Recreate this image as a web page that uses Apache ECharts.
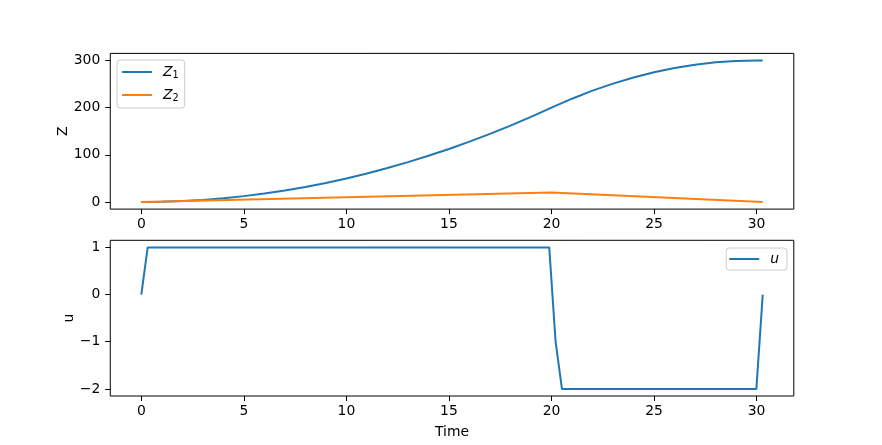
<!DOCTYPE html>
<html>
<head>
<meta charset="utf-8">
<script src="https://cdn.jsdelivr.net/npm/echarts@6/dist/echarts.min.js"></script>
<style>
html,body{margin:0;padding:0;background:#fff;}
#c{width:882px;height:445px;}
</style>
</head>
<body>
<div id="c"></div>
<script>
// ---- data ----
const timeZ1 = [0,1,2,3,4,5,6,7,8,9,10,11,12,13,14,15,16,17,18,19,20,21,22,23,24,25,26,27,28,29,30,30.3];
const z1 = [0,0.5,2,4.5,8,12.5,18,24.5,32,40.5,50,60.5,72,84.5,98,112.5,128,144.5,162,180.5,200,219,236,251,264,275,284,291,296,299,300,300];
const timeZ2 = [0,20,30.3];
const z2 = [0,20,0];
const timeU = [0,0.31,19.89,20.2,20.51,29.99,30.3];
const u = [0,1,1,-1,-2,-2,0];
const xTicks = [0,5,10,15,20,25,30];
const zTicks = [0,100,200,300];
const uTicks = [-2,-1,0,1];

const pair = (t, v) => t.map((x, i) => [x, v[i]]);
const FONT = 'DejaVu Sans';
const fmt = v => (v < 0 ? '\u2212' + Math.abs(v) : String(v));

function xAxis(gi) {
  return {
    type: 'value', gridIndex: gi, min: -1.515, max: 31.815,
    splitLine: {show: false},
    axisLine: {show: false, onZero: false},
    axisTick: {show: true, length: 5, inside: false, customValues: xTicks, lineStyle: {color: '#000', width: 1}},
    axisLabel: {customValues: xTicks, formatter: fmt, margin: 8, color: '#000', fontFamily: FONT, fontSize: 13.9},
    name: gi === 1 ? 'Time' : '', nameLocation: 'middle', nameGap: 29, nameMoveOverlap: false,
    nameTextStyle: {color: '#000', fontFamily: FONT, fontSize: 13.9}
  };
}
function yAxis(gi, min, max, ticks, name, gap) {
  return {
    type: 'value', gridIndex: gi, min: min, max: max,
    splitLine: {show: false},
    axisLine: {show: false, onZero: false},
    axisTick: {show: true, length: 5, inside: false, customValues: ticks, lineStyle: {color: '#000', width: 1}},
    axisLabel: {customValues: ticks, formatter: fmt, margin: 10, color: '#000', fontFamily: FONT, fontSize: 13.9},
    name: name, nameLocation: 'middle', nameGap: gap, nameMoveOverlap: false,
    nameTextStyle: {color: '#000', fontFamily: FONT, fontSize: 13.9}
  };
}

const rich = {
  i: {fontFamily: FONT, fontStyle: 'italic', fontSize: 13.9, color: '#000', padding: [0,0,0,6]},
  s: {fontFamily: FONT, fontSize: 9.7, color: '#000', verticalAlign: 'bottom', padding: [6,0,0,0]}
};

const chart = echarts.init(document.getElementById('c'), null, {renderer: 'canvas'});
chart.setOption({
  animation: false,
  backgroundColor: '#fff',
  grid: [
    {left: 110.25, right: 88.2, top: 53.4, height: 155.7, show: true, borderColor: '#000', borderWidth: 1, backgroundColor: 'transparent'},
    {left: 110.25, right: 88.2, top: 240.3, height: 155.7, show: true, borderColor: '#000', borderWidth: 1, backgroundColor: 'transparent'}
  ],
  xAxis: [xAxis(0), xAxis(1)],
  yAxis: [yAxis(0, -15, 315, zTicks, 'Z', 40), yAxis(1, -2.15, 1.15, uTicks, 'u', 34)],
  legend: [
    {
      data: ['Z1', 'Z2'], orient: 'vertical', left: 117, top: 60,
      icon: 'rect', itemWidth: 30, itemHeight: 2, itemGap: 8,
      padding: [5, 6, 5, 5],
      borderColor: '#cccccc', borderWidth: 1, borderRadius: 3, backgroundColor: 'rgba(255,255,255,0.8)',
      formatter: n => n === 'Z1' ? '{i|Z}{s|1}' : '{i|Z}{s|2}',
      textStyle: {rich: rich}
    },
    {
      data: ['u'], orient: 'vertical', right: 95, top: 248,
      icon: 'rect', itemWidth: 30, itemHeight: 2,
      padding: [4, 8, 4, 3],
      borderColor: '#cccccc', borderWidth: 1, borderRadius: 3, backgroundColor: 'rgba(255,255,255,0.8)',
      formatter: () => '{i|u}',
      textStyle: {rich: rich}
    }
  ],
  series: [
    {name: 'Z1', type: 'line', xAxisIndex: 0, yAxisIndex: 0, data: pair(timeZ1, z1), symbol: 'none', smooth: false, color: '#1f77b4', lineStyle: {width: 2, color: '#1f77b4'}},
    {name: 'Z2', type: 'line', xAxisIndex: 0, yAxisIndex: 0, data: pair(timeZ2, z2), symbol: 'none', color: '#ff7f0e', lineStyle: {width: 2, color: '#ff7f0e'}},
    {name: 'u', type: 'line', xAxisIndex: 1, yAxisIndex: 1, data: pair(timeU, u), symbol: 'none', color: '#1f77b4', lineStyle: {width: 2, color: '#1f77b4'}}
  ]
});
</script>
</body>
</html>
